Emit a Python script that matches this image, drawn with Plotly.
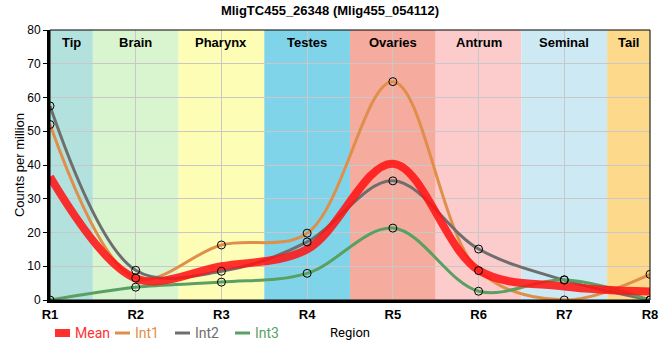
import plotly.graph_objects as go

regions = ["R1", "R2", "R3", "R4", "R5", "R6", "R7", "R8"]
xpos = [1, 2, 3, 4, 5, 6, 7, 8]
int1 = [52.0, 6.5, 16.3, 19.8, 64.7, 8.7, 0.0, 7.6]
int2 = [57.5, 8.8, 8.5, 17.2, 35.3, 15.1, 5.9, 0.0]
int3 = [0.0, 3.8, 5.3, 7.9, 21.3, 2.6, 6.0, 0.0]
mean = [36.5, 6.4, 10.0, 15.0, 40.4, 8.8, 4.0, 2.5]

band_names = ["Tip", "Brain", "Pharynx", "Testes", "Ovaries", "Antrum", "Seminal", "Tail"]
band_colors = ["#b3e2de", "#d8f5d0", "#fdfdb5", "#80d4ea", "#f5ab9d", "#fccbcc", "#cdeaf4", "#fdd98b"]

series_names = ["Mean", "Int1", "Int2", "Int3"]
c_mean = "rgba(255,20,20,0.88)"
c1 = "#e08f4a"
c2 = "#6e6e6e"
c3 = "#5aa063"
legend_colors = ["#ff3030", c1, c2, c3]

fig = go.Figure()

for name, ys, col in [("Int1", int1, c1), ("Int2", int2, c2), ("Int3", int3, c3)]:
    fig.add_trace(go.Scatter(x=xpos, y=ys, mode="lines", name=name, showlegend=False,
                             line=dict(color=col, width=3, shape="spline", smoothing=1.0),
                             cliponaxis=False))
fig.add_trace(go.Scatter(x=xpos, y=mean, mode="lines", name="Mean", showlegend=False,
                         line=dict(color=c_mean, width=8, shape="spline", smoothing=1.0),
                         cliponaxis=False))
for ys in (int1, int2, int3):
    fig.add_trace(go.Scatter(x=xpos, y=ys, mode="markers", showlegend=False,
                             marker=dict(symbol="circle", size=8, color="rgba(0,0,0,0)",
                                         line=dict(color="black", width=1)),
                             cliponaxis=True))

shapes = []
for i, (nm, col) in enumerate(zip(band_names, band_colors)):
    x0 = max(1, i + 0.5)
    x1 = min(8, i + 1.5)
    shapes.append(dict(type="rect", xref="x", yref="paper", x0=x0, x1=x1, y0=0, y1=1,
                       fillcolor=col, line=dict(width=0), layer="below"))
    fig.add_annotation(x=(x0 + x1) / 2, y=1, xref="x", yref="paper", yanchor="middle", yshift=-12,
                       text=f"<b>{nm}</b>", showarrow=False,
                       font=dict(size=13, color="black", family="Liberation Sans, Arial"))
shapes.append(dict(type="rect", xref="paper", yref="paper", x0=0, x1=1, y0=0, y1=1,
                   line=dict(color="black", width=1), layer="above"))

# manual legend (paper coords: plot spans 600 x 270 px)
leg_y = -33 / 270
for k, (nm, col) in enumerate(zip(series_names, legend_colors)):
    px0 = 5 + 60 * k
    w = 8 if k == 0 else 3
    shapes.append(dict(type="line", xref="paper", yref="paper", x0=px0 / 600, x1=(px0 + 15) / 600,
                       y0=leg_y, y1=leg_y, line=dict(color=col, width=w)))
    fig.add_annotation(x=(px0 + 18) / 600, y=leg_y, xref="paper", yref="paper", xanchor="left",
                       yanchor="middle", text=nm, showarrow=False,
                       font=dict(size=14, color=col, family="Roboto, Liberation Sans"))
fig.update_layout(shapes=shapes)

fig.update_layout(
    width=660, height=360,
    margin=dict(l=50, r=10, t=30, b=60),
    paper_bgcolor="white", plot_bgcolor="white",
    font=dict(family="Liberation Sans, Arial", size=12, color="black"),
    title=dict(text="<b>MligTC455_26348 (Mlig455_054112)</b>", x=0.5, xanchor="center",
               yref="container", y=1 - 10 / 360, yanchor="middle", font=dict(size=13)),
    showlegend=False,
    xaxis=dict(range=[1, 8], tickvals=xpos, ticktext=[f"<b>{r}</b>" for r in regions],
               showgrid=True, gridcolor="#c8c8c8", gridwidth=1, zeroline=False,
               showline=True, linecolor="black", linewidth=3, ticks="", automargin=False,
               tickfont=dict(size=13),
               title=dict(text="Region", standoff=8, font=dict(size=13, family="Roboto, Liberation Sans"))),
    yaxis=dict(range=[0, 80], dtick=10, showgrid=True, gridcolor="#c8c8c8", gridwidth=1,
               zeroline=False, showline=True, linecolor="black", linewidth=3, automargin=False,
               ticks="outside", ticklen=4, tickcolor="black", tickfont=dict(size=12),
               title=dict(text="Counts per million", font=dict(size=13), standoff=0)),
)

fig.write_html("out.html", config={"displayModeBar": False},
               post_script="document.body.style.margin='0';document.body.style.overflow='hidden';")
